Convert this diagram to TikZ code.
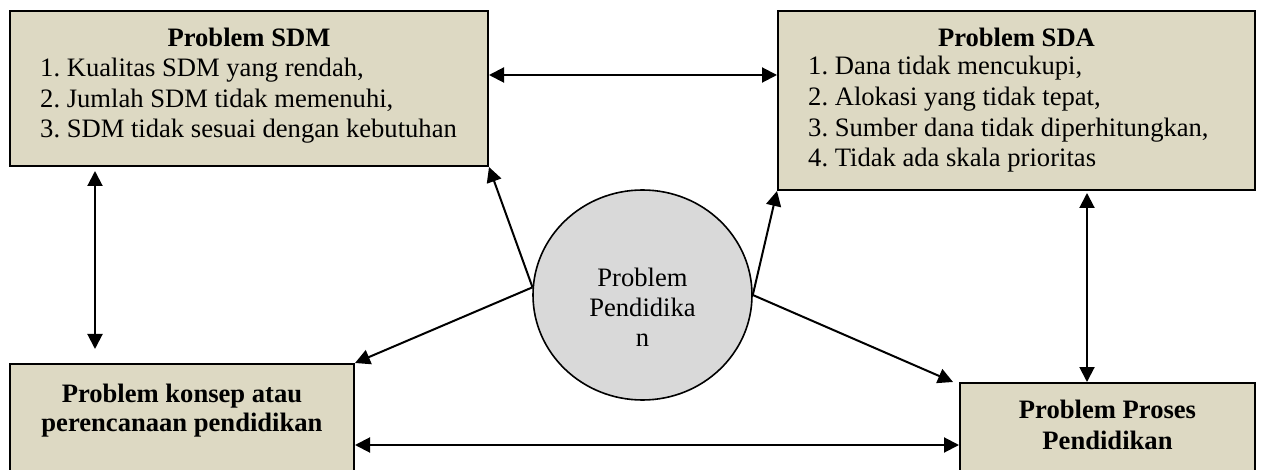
\documentclass[tikz,border=0pt]{standalone}
\usepackage{fontspec}
\setmainfont{Liberation Serif}
\usetikzlibrary{arrows.meta,shapes.geometric}
\definecolor{boxfill}{RGB}{221,217,195}
\definecolor{circfill}{RGB}{217,217,217}
\begin{document}
\frenchspacing
\begin{tikzpicture}[x=1pt,y=-1pt,
  box/.style={draw=black,line width=2pt,fill=boxfill,inner sep=0pt},
  circ/.style={ellipse,draw=black,line width=1.6pt,fill=circfill,inner sep=0pt,minimum width=219pt,minimum height=210pt},
  txt/.style={inner sep=0pt,font=\fontsize{26.6}{30.7}\selectfont},
  head/.style={inner sep=0pt,font=\fontsize{26.6}{30.7}\selectfont\bfseries},
  tip/.tip={Triangle[length=15pt,width=15pt]},
  link/.style={line width=2pt,tip-tip},
  arr/.style={line width=2pt,-tip}]
\useasboundingbox (0,0) rectangle (1264,470);
\clip (0,0) rectangle (1264,470);
% boxes
\node[box,minimum width=478pt,minimum height=155pt] (sdm) at (249,88.5) {};
\node[box,minimum width=477pt,minimum height=179pt] (sda) at (1016.5,100.5) {};
\node[box,minimum width=344pt,minimum height=126pt] (konsep) at (182,427) {};
\node[box,minimum width=295pt,minimum height=107pt] (proses) at (1107.5,436.5) {};
\node[circ] (pp) at (642.5,295) {};
% texts
\node[head,anchor=base] (sdmh) at (249,47) {Problem SDM};
\node[txt,anchor=base west] (sdm1) at (40,77) {1. Kualitas SDM yang rendah,};
\node[txt,anchor=base west] (sdm2) at (40,108) {2. Jumlah SDM tidak memenuhi,};
\node[txt,anchor=base west] (sdm3) at (40,138) {3. SDM tidak sesuai dengan kebutuhan};
\node[head,anchor=base] (sdah) at (1016.5,47) {Problem SDA};
\node[txt,anchor=base west] (sda1) at (808,75) {1. Dana tidak mencukupi,};
\node[txt,anchor=base west] (sda2) at (808,105.7) {2. Alokasi yang tidak tepat,};
\node[txt,anchor=base west] (sda3) at (808,136.4) {3. Sumber dana tidak diperhitungkan,};
\node[txt,anchor=base west] (sda4) at (808,167) {4. Tidak ada skala prioritas};
\node[head,anchor=base] (konsep1) at (182,402) {Problem konsep atau};
\node[head,anchor=base] (konsep2) at (182,431) {perencanaan pendidikan};
\node[head,anchor=base] (proses1) at (1107.5,418) {Problem Proses};
\node[head,anchor=base] (proses2) at (1107.5,449) {Pendidikan};
\node[txt,anchor=base] (pp1) at (642.5,287) {Problem};
\node[txt,anchor=base] (pp2) at (642.5,317) {Pendidika};
\node[txt,anchor=base] (pp3) at (642.5,347) {n};
% two-way connectors
\draw[link] ([yshift=13.5pt]sdm.east) -- ([yshift=13.5pt]sdm.east -| sda.west);
\draw[link] ([xshift=-154pt,yshift=-4pt]sdm.south) -- ([xshift=-87pt,yshift=14pt]konsep.north);
\draw[link] ([xshift=70.5pt,yshift=-2pt]sda.south) -- ([xshift=70.5pt]sda.south |- proses.north);
\draw[link] ([yshift=-18pt]konsep.east) -- ([yshift=-18pt]konsep.east -| proses.west);
% from the centre
\draw[arr] (pp.176) -- (sdm.south east);
\draw[arr] (pp.176) -- (konsep.north east);
\draw[arr] (pp.east) -- (sda.south west);
\draw[arr] (pp.east) -- ([xshift=-6pt]proses.north west);
\end{tikzpicture}
\end{document}
